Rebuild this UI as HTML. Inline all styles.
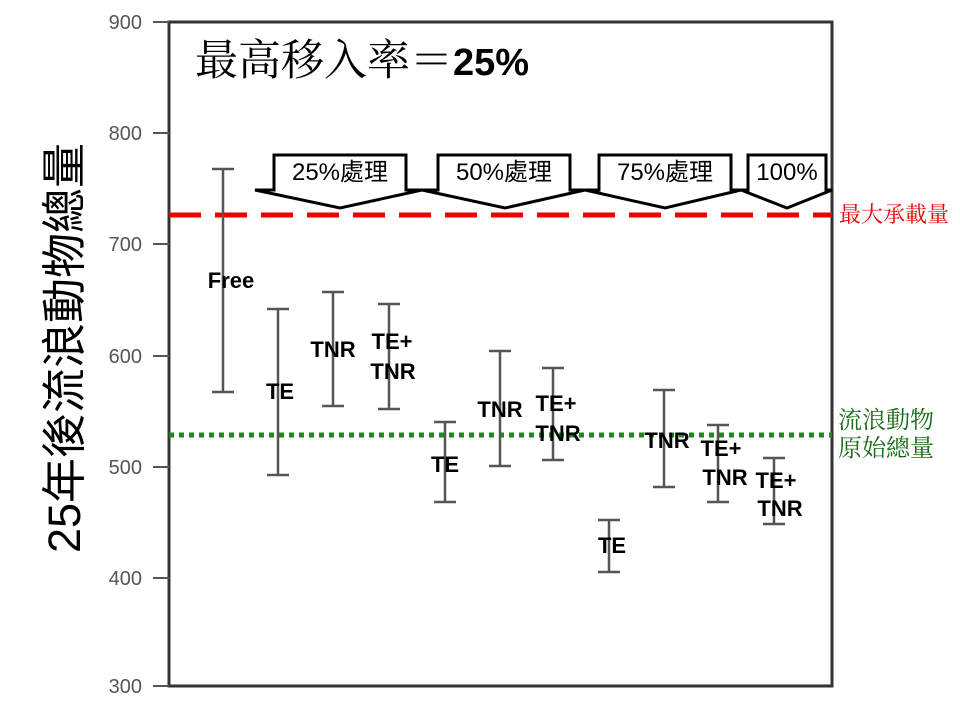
<!DOCTYPE html>
<html><head><meta charset="utf-8"><style>html,body{margin:0;padding:0;background:#fff;}</style></head>
<body>
<svg width="960" height="720" xmlns="http://www.w3.org/2000/svg" style="display:block">
<rect width="960" height="720" fill="#fff"/>
<rect x="169" y="22" width="663" height="664" fill="none" stroke="#333" stroke-width="3"/>
<g stroke="#555" stroke-width="2">
<line x1="153" y1="22" x2="169" y2="22"/>
<line x1="153" y1="133" x2="169" y2="133"/>
<line x1="153" y1="244" x2="169" y2="244"/>
<line x1="153" y1="356" x2="169" y2="356"/>
<line x1="153" y1="467" x2="169" y2="467"/>
<line x1="153" y1="578" x2="169" y2="578"/>
<line x1="153" y1="686" x2="169" y2="686"/>
</g>
<g font-family="Liberation Sans, sans-serif" font-size="20" fill="#555" text-anchor="end">
<text x="142" y="29">900</text><text x="142" y="140">800</text><text x="142" y="251">700</text>
<text x="142" y="363">600</text><text x="142" y="474">500</text><text x="142" y="585">400</text><text x="142" y="693">300</text>
</g>
<text transform="translate(80,348) rotate(-90)" text-anchor="middle" font-family="Liberation Sans, Noto Sans CJK TC, sans-serif" font-size="45" fill="#000">25年後流浪動物總量</text>
<text x="195" y="75" font-family="Liberation Serif, Noto Serif CJK SC, serif" font-size="43" fill="#000">最高移入率＝<tspan font-family="Liberation Sans, sans-serif" font-weight="bold" font-size="38">25%</tspan></text>
<line x1="169" y1="215" x2="832" y2="215" stroke="#e00" stroke-width="5" stroke-dasharray="32,14"/>
<line x1="169" y1="435" x2="832" y2="435" stroke="#1a8a1a" stroke-width="5" stroke-dasharray="5,5"/>
<text x="839" y="222" font-family="Liberation Serif, Noto Serif CJK SC, serif" font-size="22" fill="#e00">最大承載量</text>
<text x="838" y="428" font-family="Liberation Serif, Noto Serif CJK SC, serif" font-size="24" fill="#1a6a1a">流浪動物</text>
<text x="838" y="456" font-family="Liberation Serif, Noto Serif CJK SC, serif" font-size="24" fill="#1a6a1a">原始總量</text>
<g fill="#fff" stroke="#000" stroke-width="3" stroke-linejoin="miter">
<polygon points="274,155 406,155 406,190 422,190 340,208 255,190 274,190"/>
<polygon points="438,155 570,155 570,190 585,190 505,208 422,190 438,190"/>
<polygon points="599,155 731,155 731,190 741,190 665,208 585,190 599,190"/>
<polygon points="748,155 826,155 826,190 832,190 787,208 741,190 748,190"/>
</g>
<g font-family="Liberation Sans, Noto Sans CJK TC, sans-serif" font-size="24" fill="#000" text-anchor="middle">
<text x="340" y="180">25%處理</text><text x="504" y="180">50%處理</text><text x="665" y="180">75%處理</text><text x="787" y="180">100%</text>
</g>
<g stroke="#555" stroke-width="2.5">
<path d="M223 169V392M212 169H234M212 392H234"/>
<path d="M278 309V475M267 309H289M267 475H289"/>
<path d="M333 292V406M322 292H344M322 406H344"/>
<path d="M389 304V409M378 304H400M378 409H400"/>
<path d="M445 422V502M434 422H456M434 502H456"/>
<path d="M500 351V466M489 351H511M489 466H511"/>
<path d="M553 368V460M542 368H564M542 460H564"/>
<path d="M609 520V572M598 520H620M598 572H620"/>
<path d="M664 390V487M653 390H675M653 487H675"/>
<path d="M718 425V502M707 425H729M707 502H729"/>
<path d="M774 458V524M763 458H785M763 524H785"/>
</g>
<g font-family="Liberation Sans, sans-serif" font-weight="bold" font-size="22" fill="#000" text-anchor="middle">
<text x="231" y="288">Free</text>
<text x="280" y="399">TE</text>
<text x="333" y="357">TNR</text>
<text x="392" y="349">TE+</text><text x="393" y="379">TNR</text>
<text x="445" y="472">TE</text>
<text x="500" y="417">TNR</text>
<text x="556" y="411">TE+</text><text x="558" y="441">TNR</text>
<text x="612" y="553">TE</text>
<text x="667" y="448">TNR</text>
<text x="721" y="456">TE+</text><text x="725" y="485">TNR</text>
<text x="776" y="488">TE+</text><text x="780" y="516">TNR</text>
</g>
</svg>
</body></html>
